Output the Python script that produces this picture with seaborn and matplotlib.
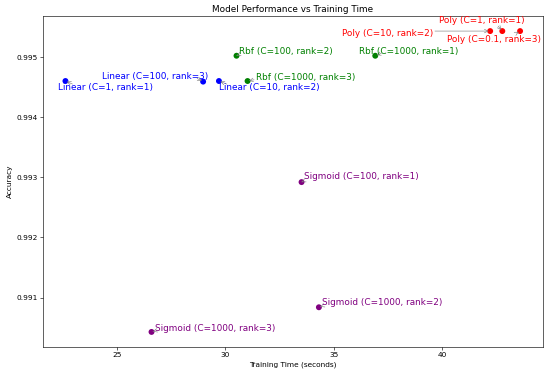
import matplotlib
matplotlib.use("Agg")
import matplotlib.pyplot as plt
import seaborn as sns
import pandas as pd

# Data
kernels = ["Linear", "Linear", "Linear", "Rbf", "Rbf", "Rbf",
           "Poly", "Poly", "Poly", "Sigmoid", "Sigmoid", "Sigmoid"]
c_values = ["1", "100", "10", "1000", "100", "1000",
            "10", "1", "0.1", "100", "1000", "1000"]
ranks = [1, 3, 2, 3, 2, 1, 2, 1, 3, 1, 2, 3]
train_time = [22.63, 28.98, 29.71, 31.03, 30.52, 36.92,
              42.22, 42.78, 43.60, 33.52, 34.32, 26.60]
accuracy = [0.99460, 0.99459, 0.99460, 0.99460, 0.99502, 0.99502,
            0.99543, 0.99543, 0.99543, 0.99292, 0.99084, 0.99043]

palette = {"Linear": "blue", "Rbf": "green", "Poly": "red", "Sigmoid": "purple"}

# label placement offsets (pixels) as found in the reference layout
label_offsets = [(-7, -6), (-101, 5), (0, -6), (8, 4), (2, 4), (-16, 4),
                 (-148, -2), (-63, 11), (-73, -8), (2, 6), (3, 5), (3, 4)]
# where each leader arrow starts, in pixels relative to its marker
arrow_starts = [(7, -1), (-6, 2), (8, -1), (8, 2), (7, 3), (6, 2),
                (-62, 0), (-7, 4), (-14, -6), (7, 2), (7, 2), (7, 2)]

df = pd.DataFrame({"kernel": kernels, "C": c_values, "rank": ranks,
                   "time": train_time, "acc": accuracy})

fig, ax = plt.subplots(figsize=(10, 6.82), dpi=55)
fig.subplots_adjust(left=0.078, right=0.987, top=0.957, bottom=0.0747)

sns.scatterplot(data=df, x="time", y="acc", hue="kernel", palette=palette,
                s=60, edgecolor="none", legend=False, ax=ax)

anns = []
for i, row in df.iterrows():
    label = f"{row['kernel']} (C={row['C']}, rank={row['rank']})"
    ann = ax.annotate(label, xy=(row["time"], row["acc"]),
                      xytext=label_offsets[i], textcoords="offset pixels",
                      ha="left", va="center", fontsize=11.6,
                      color=palette[row["kernel"]],
                      arrowprops=dict(arrowstyle="->", color="gray", lw=0.8,
                                      shrinkA=0, shrinkB=2))
    anns.append(ann)

ax.set_xlim(21.59, 44.65)
ax.set_ylim(0.99018, 0.99568)
ax.set_xticks([25, 30, 35, 40])
ax.set_yticks([0.991, 0.992, 0.993, 0.994, 0.995])
ax.tick_params(labelsize=9.6)
ax.set_title("Model Performance vs Training Time", fontsize=11.6)
ax.set_xlabel("Training Time (seconds)", fontsize=9.6)
ax.set_ylabel("Accuracy", fontsize=9.6)

# start each arrow at the chosen point next to its marker
fig.canvas.draw()
renderer = fig.canvas.get_renderer()
for ann, t, a, (ox, oy) in zip(anns, train_time, accuracy, arrow_starts):
    bb = ann.get_window_extent(renderer)
    px, py = ax.transData.transform((t, a))
    rx = (px + ox - bb.x0) / bb.width
    ry = (py + oy - bb.y0) / bb.height
    ann._arrow_relpos = (rx, ry)
    ann.arrowprops["relpos"] = (rx, ry)

fig.savefig("out.png", dpi=55)
